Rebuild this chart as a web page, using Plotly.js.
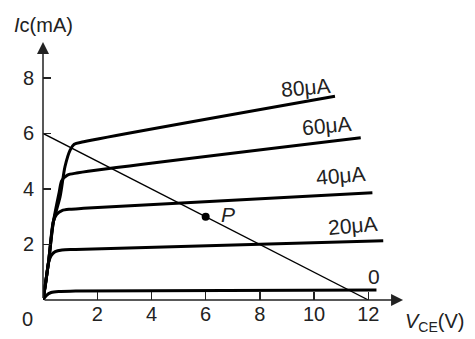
<!DOCTYPE html>
<html>
<head>
<meta charset="utf-8">
<script src="https://cdn.plot.ly/plotly-3.0.1.min.js"></script>
<style>html,body{margin:0;padding:0;background:#fff;}#chart{width:475px;height:339px;}</style>
</head>
<body>
<div id="chart"></div>
<script>
// Output characteristic curves (Ic in mA vs VCE in V), one per base current
const curveNames = ["0", "20μA", "40μA", "60μA", "80μA"];
const vce0  = [0, 0.12, 0.3, 0.6, 1.2, 12.3];
const ic0   = [0, 0.16, 0.27, 0.31, 0.32, 0.36];
const vce20 = [0, 0.1, 0.2, 0.3, 0.45, 0.7, 1.2, 12.55];
const ic20  = [0, 0.6, 1.33, 1.6, 1.74, 1.8, 1.82, 2.13];
const vce40 = [0, 0.2, 0.38, 0.5, 0.7, 1.0, 1.5, 12.15];
const ic40  = [0, 1.33, 2.82, 3.08, 3.22, 3.27, 3.3, 3.86];
const vce60 = [0, 0.2, 0.38, 0.6, 0.69, 0.9, 1.3, 11.72];
const ic60  = [0, 1.33, 2.8, 3.9, 4.3, 4.5, 4.58, 5.84];
const vce80 = [0, 0.2, 0.38, 0.63, 0.81, 1.0, 1.15, 1.5, 10.77];
const ic80  = [0, 1.33, 2.8, 3.72, 4.8, 5.4, 5.61, 5.7, 7.34];

// Load line and operating point P
const loadVce = [0, 12];
const loadIc  = [6, 0];
const pointP  = {vce: 6, ic: 3, label: "P"};

// Curve label positions
const labelVce = [12.2, 11.4, 10.96, 10.47, 9.67];
const labelIc  = [0.84, 2.7, 4.5, 6.29, 7.67];

// Ticks
const xTicks = [2, 4, 6, 8, 10, 12];
const yTicks = [2, 4, 6, 8];

const FONT = "Liberation Sans, Arial, Helvetica, sans-serif";
const TXT = "#222";

const curveX = [vce0, vce20, vce40, vce60, vce80];
const curveY = [ic0, ic20, ic40, ic60, ic80];

const traces = curveX.map((xs, i) => ({
  x: xs, y: curveY[i], type: "scatter", mode: "lines",
  line: {color: "#000", width: 3, shape: "spline", smoothing: 0.8},
  hoverinfo: "skip", showlegend: false, cliponaxis: false
}));
traces.push({
  x: loadVce, y: loadIc, type: "scatter", mode: "lines",
  line: {color: "#000", width: 1.3}, showlegend: false, cliponaxis: false
});
traces.push({
  x: [pointP.vce], y: [pointP.ic], type: "scatter", mode: "markers",
  marker: {color: "#000", size: 8}, showlegend: false, cliponaxis: false
});

const annotations = curveNames.map((t, i) => ({
  x: labelVce[i], y: labelIc[i], xref: "x", yref: "y", text: t,
  showarrow: false, textangle: i === 0 ? 0 : -5,
  font: {family: FONT, size: 21, color: TXT}
}));
annotations.push({
  x: pointP.vce + 0.84, y: pointP.ic + 0.09, xref: "x", yref: "y",
  text: "<i>" + pointP.label + "</i>", showarrow: false,
  font: {family: FONT, size: 21, color: TXT}
});
// Axis arrows
annotations.push({
  x: 13.28, y: 0, ax: 0, ay: 0, xref: "x", yref: "y", axref: "x", ayref: "y",
  text: " ", showarrow: true, arrowhead: 2, arrowsize: 1.6, arrowwidth: 1.5, arrowcolor: "#222", standoff: 0,
  font: {size: 1}
});
annotations.push({
  x: 0, y: 9.29, ax: 0, ay: 0, xref: "x", yref: "y", axref: "x", ayref: "y",
  text: " ", showarrow: true, arrowhead: 2, arrowsize: 1.6, arrowwidth: 1.5, arrowcolor: "#222", standoff: 0,
  font: {size: 1}
});
// Axis titles and origin label
annotations.push({
  x: -0.085, y: 1.054, xref: "paper", yref: "paper", xanchor: "left", yanchor: "middle",
  text: "<i>I</i>c(mA)", showarrow: false, font: {family: FONT, size: 20, color: TXT}
});
annotations.push({
  x: 0.983, y: -0.088, xref: "paper", yref: "paper", xanchor: "left", yanchor: "middle",
  text: "<i>V</i><sub>CE</sub>(V)", showarrow: false, font: {family: FONT, size: 20, color: TXT}
});
annotations.push({
  x: -0.041, y: -0.071, xref: "paper", yref: "paper", xanchor: "center", yanchor: "middle",
  text: "0", showarrow: false, font: {family: FONT, size: 20, color: TXT}
});

const layout = {
  width: 475, height: 339,
  margin: {l: 43, r: 66, t: 39, b: 39},
  paper_bgcolor: "#fff", plot_bgcolor: "#fff",
  showlegend: false,
  xaxis: {
    range: [0, 13.5], showgrid: false, zeroline: false, showline: false,
    tickvals: xTicks, ticktext: xTicks.map(String),
    ticks: "inside", ticklen: 8, tickwidth: 1.3, tickcolor: "#222",
    tickfont: {family: FONT, size: 20, color: TXT}, fixedrange: true
  },
  yaxis: {
    range: [0, 9.4], showgrid: false, zeroline: false, showline: false,
    tickvals: yTicks, ticktext: yTicks.map(String),
    ticks: "inside", ticklen: 8, tickwidth: 1.3, tickcolor: "#222",
    ticklabelstandoff: 8,
    tickfont: {family: FONT, size: 20, color: TXT}, fixedrange: true
  },
  annotations: annotations
};

Plotly.newPlot("chart", traces, layout, {staticPlot: true, displayModeBar: false});
</script>
</body>
</html>
